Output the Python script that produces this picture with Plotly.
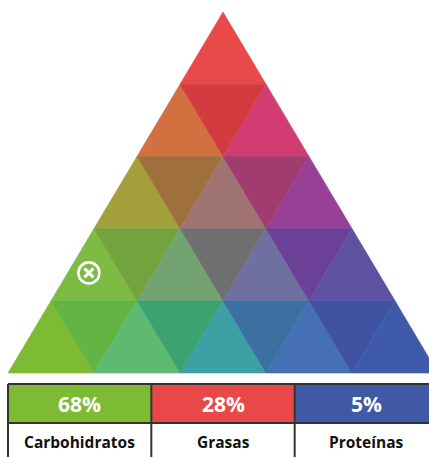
import plotly.graph_objects as go

# ---- data ----
labels = ["Carbohidratos", "Grasas", "Proteínas"]
percentages = [68, 28, 5]
box_colors = ["#7DBB35", "#E84848", "#4059A6"]

# colours of the 25 small triangles, rows from top, left to right
row_colors = [
    ["#E84A4A"],
    ["#D2703F", "#D33B3F", "#D13C72"],
    ["#A3A03C", "#A0703C", "#A07472", "#A03C70", "#983F96"],
    ["#7DBB42", "#72A33D", "#72A370", "#707070", "#7070A0", "#6C4096", "#5E52A0"],
    ["#7DBB35", "#62B543", "#5EBA70", "#3CA370", "#3CA0A5", "#3C70A0", "#4570B5", "#4053A3", "#3F5AA8"],
]
N = 5  # subdivisions


def tern_to_xy(c, f, p):
    s = c + f + p
    f, p = f / s, p / s
    return f * N / 2 + p * N, f * N


fig = go.Figure()

# triangles built from ternary lattice
for r, colors in enumerate(row_colors):
    a = N - 1 - r  # fat level
    k = 0
    for b in range(N - a):
        tris = [[(a, b), (a, b + 1), (a + 1, b)]]
        if b < N - 1 - a:
            tris.append([(a + 1, b), (a, b + 1), (a + 1, b + 1)])
        for tri in tris:
            xs, ys = [], []
            for fa, pb in tri:
                x, y = tern_to_xy(N - fa - pb, fa, pb)
                xs.append(x)
                ys.append(y)
            xs.append(xs[0]); ys.append(ys[0])
            col = colors[k]
            k += 1
            fig.add_trace(go.Scatter(x=xs, y=ys, fill="toself", fillcolor=col,
                                     mode="lines", line=dict(color=col, width=0.6),
                                     hoverinfo="skip", showlegend=False))

# marker for the composition
mx, my = tern_to_xy(*percentages)
fig.add_trace(go.Scatter(x=[mx], y=[my], mode="markers",
                         marker=dict(symbol="circle-open", size=21, color="white",
                                     line=dict(color="white", width=2.6)),
                         hoverinfo="skip", showlegend=False))
fig.add_trace(go.Scatter(x=[mx], y=[my], mode="markers",
                         marker=dict(symbol="x-thin-open", size=9, color="white",
                                     line=dict(color="white", width=3)),
                         hoverinfo="skip", showlegend=False))

# ---- table below ----
ROW_H = 361 / N  # px per unit
def py(px):
    return (373 - px) / ROW_H

top, mid, bot = py(384), py(423), py(480)
colw = N / 3
shapes = []
for i, col in enumerate(box_colors):
    shapes.append(dict(type="rect", x0=i * colw, x1=(i + 1) * colw, y0=mid, y1=top,
                       fillcolor=col, line=dict(width=0), layer="above"))
    fig.add_annotation(x=(i + 0.5) * colw, y=(top + mid) / 2,
                       text="<b>%d%%</b>" % percentages[i], showarrow=False,
                       font=dict(family="Open Sans", size=21, color="white"))
    fig.add_annotation(x=(i + 0.5) * colw, y=py(441.5),
                       text="<b>%s</b>" % labels[i], showarrow=False,
                       font=dict(family="Open Sans", size=15.5, color="#111111"))
lc = dict(color="#333333", width=2)
shapes.append(dict(type="line", x0=0, x1=N, y0=top, y1=top, line=lc, layer="above"))
shapes.append(dict(type="line", x0=0, x1=N, y0=mid, y1=mid, line=lc, layer="above"))
for i in range(4):
    shapes.append(dict(type="line", x0=i * colw, x1=i * colw, y0=top, y1=bot, line=lc, layer="above"))

fig.update_layout(
    width=429, height=457, margin=dict(l=0, r=0, t=0, b=0),
    paper_bgcolor="white", plot_bgcolor="white", shapes=shapes,
    xaxis=dict(range=[-8 / 86, 421 / 86], visible=False, fixedrange=True),
    yaxis=dict(range=[py(457), py(0)], visible=False, fixedrange=True),
)
fig.write_html(
    "out.html",
    config={"displayModeBar": False},
    post_script="document.body.style.margin='0';document.body.style.overflow='hidden';",
)
